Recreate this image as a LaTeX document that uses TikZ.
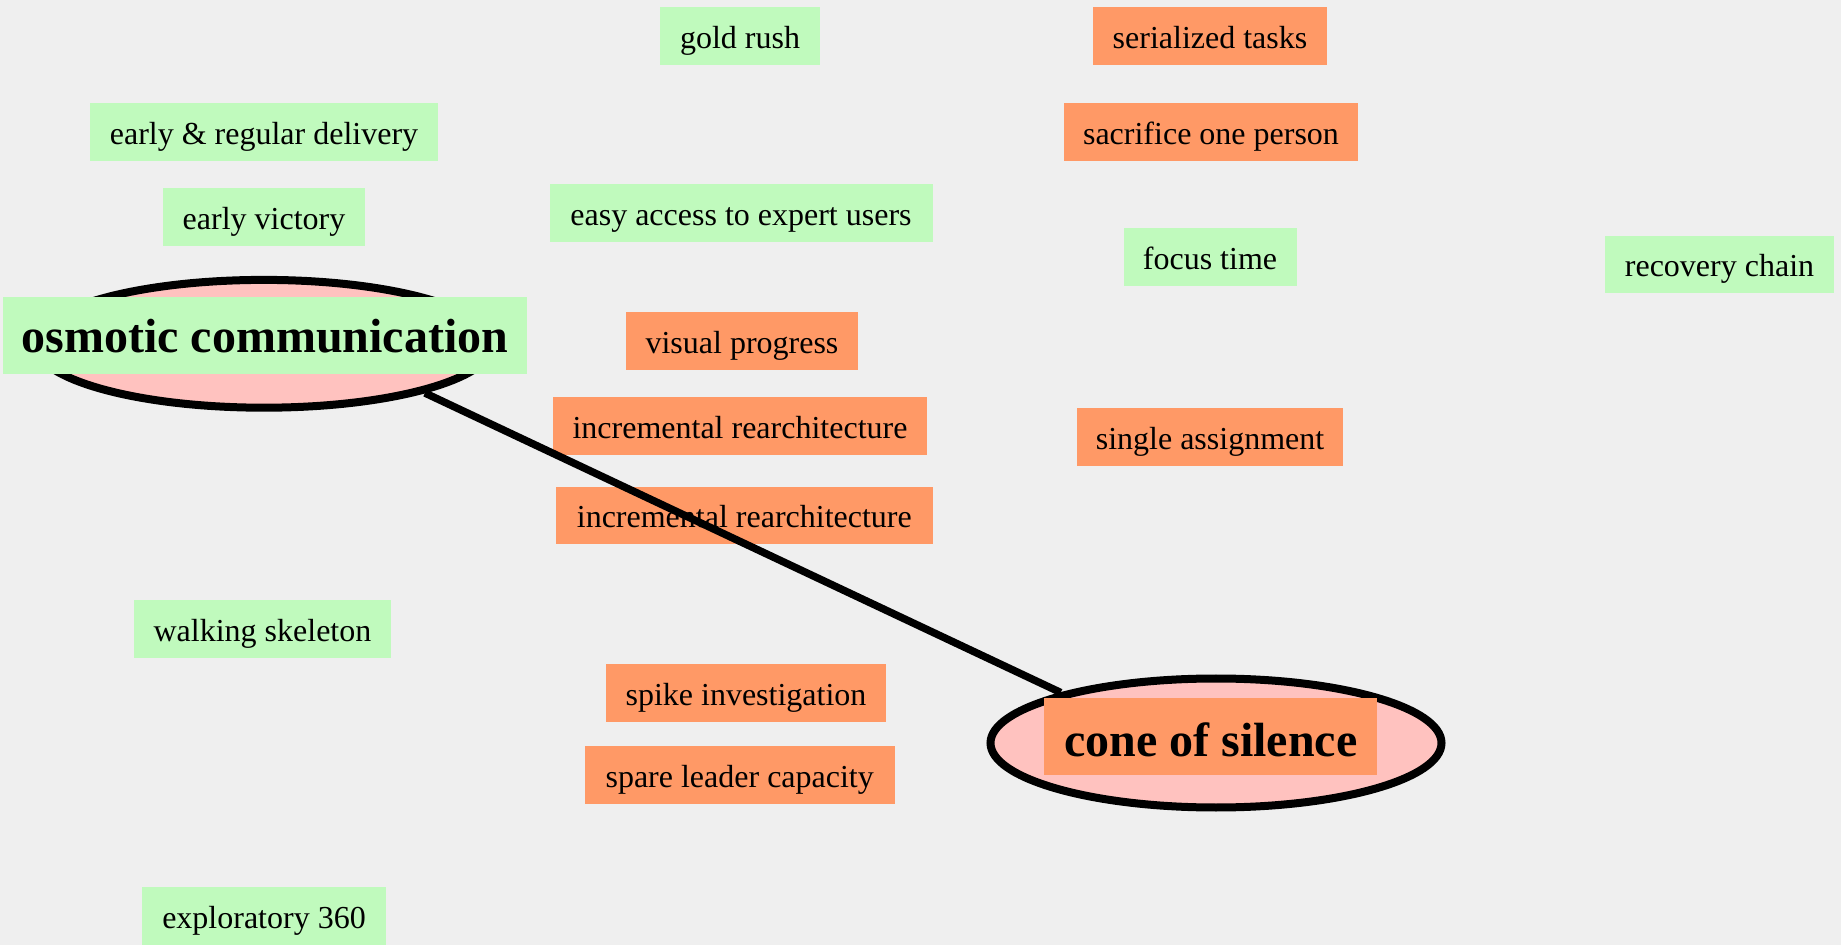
\documentclass[tikz,border=0pt]{standalone}
\usepackage{fontspec}
\setmainfont{Liberation Serif}
\usetikzlibrary{shapes.geometric}
\definecolor{bg}{HTML}{EFEFEF}
\definecolor{leaf}{HTML}{C0FABD}
\definecolor{warm}{HTML}{FF9966}
\definecolor{blush}{HTML}{FFC2BF}
\begin{document}
\begin{tikzpicture}[x=0.5pt,y=-0.5pt,
  tag/.style={rectangle, inner sep=0pt, minimum height=28.75pt,
    text height=12.3pt, text depth=0pt,
    font=\fontsize{16}{19}\selectfont},
  good/.style={tag, fill=leaf},
  risk/.style={tag, fill=warm},
  hub/.style={ellipse, draw=black, line width=4pt, fill=blush, inner sep=0pt},
  hublabel/.style={rectangle, inner sep=0pt, minimum height=38.4pt, text depth=0pt,
    font=\fontsize{24}{28}\selectfont\bfseries},
  link/.style={draw=black, line width=3.75pt}]

% canvas
\fill[bg] (0,0) rectangle (1841,945);
\useasboundingbox (0,0) rectangle (1841,945);

% the two hubs
\node[hub, minimum width=229.5pt, minimum height=63.9pt] (osm) at (264,343.8) {};
\node[hub, minimum width=225.5pt, minimum height=64.5pt] (cone) at (1216,743) {};

% green practices
\node[good, minimum width=80pt]    (gold)   at (740,36)   {gold rush};
\node[good, minimum width=174pt]   (early)  at (264,132)  {early \& regular delivery};
\node[good, minimum width=101pt]   (vict)   at (264,217)  {early victory};
\node[good, minimum width=191.5pt] (easy)   at (741,213)  {easy access to expert users};
\node[good, minimum width=86.5pt]  (focus)  at (1210,257) {focus time};
\node[good, minimum width=114.5pt] (recov)  at (1719.5,264.5) {recovery chain};
\node[good, minimum width=128.5pt] (walk)   at (262.5,629) {walking skeleton};
\node[good, minimum width=122pt]   (expl)   at (264,916)  {exploratory 360};

% orange practices
\node[risk, minimum width=117pt]   (serial) at (1210,36)  {serialized tasks};
\node[risk, minimum width=147pt]   (sacr)   at (1211,132) {sacrifice one person};
\node[risk, minimum width=116.25pt] (vis)   at (742,341)  {visual progress};
\node[risk, minimum width=187.25pt] (rearA) at (740,426)  {incremental rearchitecture};
\node[risk, minimum width=133.25pt] (single) at (1210,437) {single assignment};
\node[risk, minimum width=188.35pt] (rearB) at (744.3,515.7) {incremental rearchitecture};
\node[risk, minimum width=140.3pt] (spike)  at (746,693)  {spike investigation};
\node[risk, minimum width=155pt]   (spare)  at (739.7,775) {spare leader capacity};

% connector between the hubs
\draw[link] (osm.-17.2) -- (cone.162.4);

% hub labels
\node[hublabel, fill=leaf, minimum width=262pt, text height=17pt] (osmlbl) at (265,335.7) {osmotic communication};
\node[hublabel, fill=warm, minimum width=166.5pt, text height=20.4pt] (conelbl) at (1210.7,736.3) {cone of silence};
\end{tikzpicture}
\end{document}
